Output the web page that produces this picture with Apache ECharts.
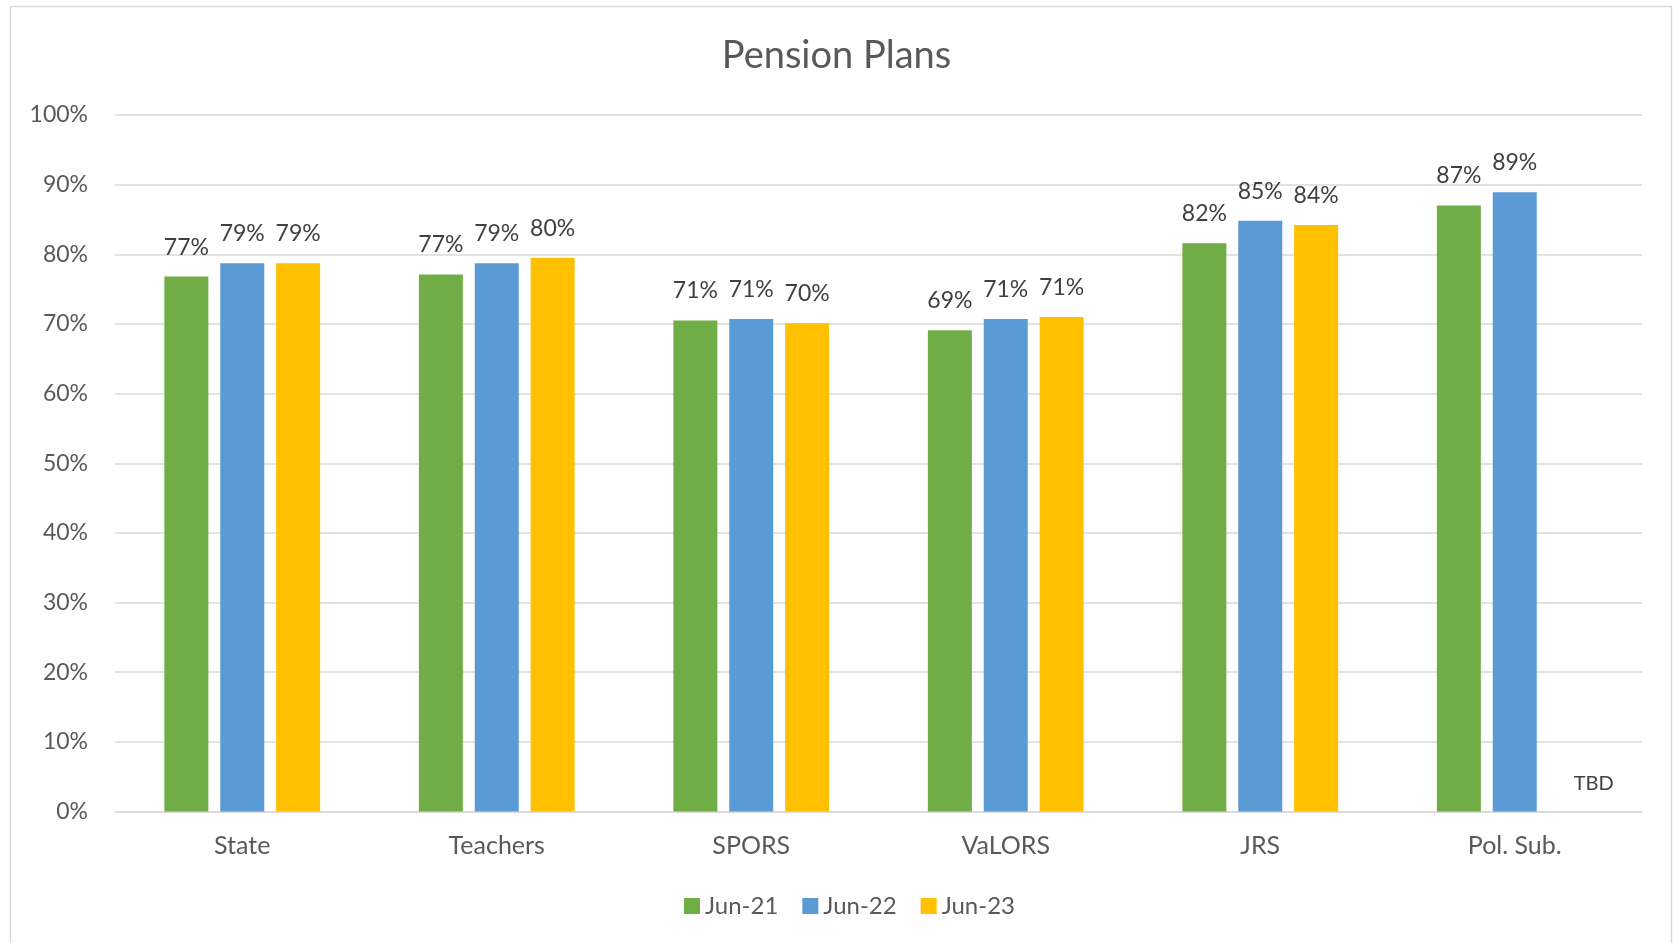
<!DOCTYPE html>
<html>
<head>
<meta charset="utf-8">
<style>
  html, body { margin: 0; padding: 0; background: #fff; }
  #chart { width: 1673px; height: 943px; }
</style>
<script src="https://cdn.jsdelivr.net/npm/echarts@6/dist/echarts.min.js"></script>
</head>
<body>
<div id="chart"></div>
<script>
// pension plan funded ratios, in percent
const categories = ['State', 'Teachers', 'SPORS', 'VaLORS', 'JRS', 'Pol. Sub.']
const seriesNames = ['Jun-21', 'Jun-22', 'Jun-23']
const jun21 = [76.8, 77.1, 70.5, 69.1, 81.6, 87.0]
const jun22 = [78.7, 78.7, 70.7, 70.7, 84.8, 88.9]
const jun23 = [78.7, 79.5, 70.1, 71.0, 84.2, null]   // Pol. Sub. not reported yet
const yTicks = { min: 0, max: 100, interval: 10 }

const COLORS = ['#70ad47', '#5b9bd5', '#ffc000']
const FONT = 'Lato'

var chart = echarts.init(document.getElementById('chart'))

function buildData(values) {
  return values.map(v => {
    if (v !== null)
      return v
    // missing value -> empty bar with a TBD note
    return {
      value: 0,
      label: {
        formatter: 'TBD',
        fontSize: 20,
        color: '#404040',
        offset: [23, 0]
      }
    }
  })
}

var series = [jun21, jun22, jun23].map((values, i) => ({
  name: seriesNames[i],
  type: 'bar',
  barWidth: 44,
  barGap: '27%',
  itemStyle: { color: COLORS[i] },
  label: {
    show: true,
    position: 'top',
    distance: 18,
    fontFamily: FONT,
    fontSize: 23,
    color: '#404040',
    formatter: p => Math.round(p.value) + '%'
  },
  data: buildData(values)
}))

chart.setOption({
  backgroundColor: '#fff',
  animation: false,
  textStyle: { fontFamily: FONT },
  title: {
    text: 'Pension Plans',
    left: 'center',
    top: 32,
    textStyle: { fontFamily: FONT, fontSize: 38, fontWeight: 'normal', color: '#595959' }
  },
  graphic: [{
    type: 'rect',
    shape: { x: 10.5, y: 6.5, width: 1661, height: 950 },
    style: { fill: 'none', stroke: '#d9d9d9', lineWidth: 1.5 },
    silent: true
  }],
  legend: {
    data: seriesNames,
    left: 679,
    top: 889,
    icon: 'rect',
    itemWidth: 16,
    itemHeight: 16,
    itemGap: 24,
    textStyle: { fontFamily: FONT, fontSize: 24, color: '#595959' }
  },
  grid: { left: 115, right: 31, top: 115, bottom: 131.5, containLabel: false },
  xAxis: {
    type: 'category',
    data: categories,
    axisTick: { show: false },
    axisLine: { lineStyle: { color: '#d9d9d9', width: 1.5 } },
    axisLabel: { fontFamily: FONT, fontSize: 25, color: '#595959', margin: 22 }
  },
  yAxis: {
    type: 'value',
    min: yTicks.min,
    max: yTicks.max,
    interval: yTicks.interval,
    axisLine: { show: false },
    axisTick: { show: false },
    splitLine: { lineStyle: { color: '#d9d9d9', width: 1.5 } },
    axisLabel: { fontFamily: FONT, fontSize: 23, color: '#595959', margin: 27, formatter: '{value}%' }
  },
  series: series
})
</script>
</body>
</html>
